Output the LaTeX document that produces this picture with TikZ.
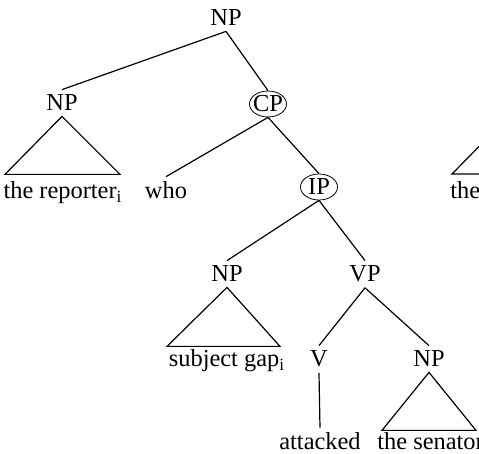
\documentclass[tikz,border=0pt]{standalone}
\usepackage{fontspec}
\setmainfont{Liberation Serif}
\usepackage{tikz}
\usetikzlibrary{positioning,shapes}

\begin{document}
\begin{tikzpicture}[x=0.5pt,y=-0.5pt,
  cat/.style={inner sep=2.5pt,anchor=base,font=\fontsize{12.2}{14}\selectfont},
  ring/.style={cat,anchor=center,ellipse,draw,inner xsep=-1.6pt,inner ysep=0pt,minimum width=18.5pt,minimum height=13pt},
  leaf/.style={cat,inner xsep=0pt},
  branch/.style={line width=0.6pt,black}
  ]
  \path[use as bounding box] (0,0) rectangle (479,454);
  \clip (0,0) rectangle (479,454);

  % top of the tree
  \node[cat] (np0) at (226,26) {NP};
  \node[cat] (np1) at (62,111) {NP};
  \node[ring] (cp) at (268,104) {CP};
  \node[leaf] (rep) at (63,199) {the reporter\textsubscript{i}};
  \node[leaf] (who) at (166,199) {who};
  \node[leaf,anchor=base west] (the) at (450,199) {the};
  \node[ring] (ip) at (319,187) {IP};

  % inside the relative clause
  \node[cat] (np2) at (227,282) {NP};
  \node[cat] (vp) at (365,282) {VP};
  \node[leaf] (gap) at (227,367) {subject gap\textsubscript{i}};
  \node[cat] (v) at (319,367) {V};
  \node[cat] (np3) at (429,367) {NP};
  \node[leaf] (att) at (320,450) {attacked};
  \node[leaf,anchor=base west] (sen) at (377,450) {the senator};

  \draw[branch] (np0.south) -- (np1.north);
  \draw[branch] (np0.south) -- (cp.north);
  \draw[branch] (cp.south) -- (who.north);
  \draw[branch] (cp.south) -- (ip.north);
  \draw[branch] (ip.south) -- (np2.north);
  \draw[branch] (ip.south) -- (vp.north);
  \draw[branch] (vp.south) -- (v.north);
  \draw[branch] (vp.south) -- (np3.north);
  \draw[branch] (v.south) -- (att.north);

  % roofs over the phrases
  \draw[branch] (np1.south) -- ++(-57,58) -- ++(115,0) -- cycle;
  \draw[branch] (np2.south) -- ++(-60,59) -- ++(113,0) -- cycle;
  \draw[branch] (np3.south) -- ++(-47,58) -- ++(94,0) -- cycle;
  \coordinate (cut) at (509,116);
  \draw[branch] (cut) -- ++(-57,58) -- ++(115,0) -- cycle;
\end{tikzpicture}
\end{document}
